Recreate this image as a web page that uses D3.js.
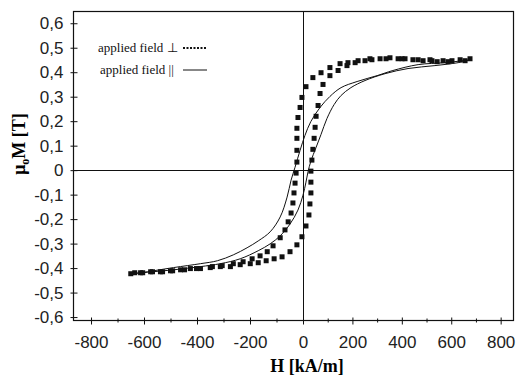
<!DOCTYPE html>
<html>
<head>
<meta charset="utf-8">
<script src="https://d3js.org/d3.v7.min.js"></script>
<style>
body { margin: 0; background: #fff; }
.tick text { font-family: "Liberation Sans", Arial, sans-serif; font-size: 17px; fill: #222; }
</style>
</head>
<body>
<svg id="chart" width="516" height="376"></svg>
<script>

// [H (kA/m), mu0*M (T)], one array per branch of each loop
const perpAscending = [[-650,-0.423],[-613,-0.419],[-575,-0.415],[-538,-0.415],[-500,-0.411],[-462,-0.407],[-425,-0.402],[-387,-0.402],[-350,-0.398],[-312,-0.394],[-274,-0.394],[-237,-0.386],[-199,-0.382],[-169,-0.378],[-139,-0.370],[-109,-0.362],[-79,-0.354],[-49,-0.333],[-23,-0.305],[-4,-0.272],[12,-0.228],[24,-0.183],[28,-0.138],[32,-0.093],[32,-0.049],[32,-0.004],[36,0.041],[40,0.085],[45,0.130],[49,0.175],[53,0.220],[61,0.264],[69,0.313],[81,0.350],[109,0.386],[142,0.407],[178,0.427],[211,0.439],[251,0.447],[271,0.455],[312,0.455],[352,0.459],[385,0.455],[413,0.455],[445,0.451],[486,0.447],[514,0.451],[543,0.443],[567,0.447],[603,0.447],[636,0.451],[676,0.455]];

const perpDescending = [[656,0.447],[587,0.443],[522,0.447],[466,0.451],[401,0.455],[336,0.455],[279,0.451],[223,0.447],[182,0.439],[150,0.435],[109,0.419],[73,0.398],[40,0.378],[12,0.341],[-4,0.297],[-11,0.256],[-19,0.215],[-23,0.171],[-23,0.130],[-23,0.081],[-23,0.033],[-26,-0.012],[-30,-0.053],[-34,-0.093],[-38,-0.134],[-45,-0.175],[-56,-0.211],[-68,-0.244],[-86,-0.276],[-113,-0.309],[-135,-0.333],[-162,-0.350],[-192,-0.362],[-226,-0.374],[-263,-0.382],[-305,-0.390],[-342,-0.394],[-402,-0.402],[-447,-0.407],[-492,-0.411],[-530,-0.415],[-568,-0.415],[-605,-0.419],[-635,-0.419]];

const parDescending = [[680,0.451],[575,0.439],[466,0.431],[364,0.407],[300,0.386],[219,0.362],[154,0.337],[109,0.301],[69,0.256],[32,0.199],[8,0.142],[-11,0.081],[-30,0.012],[-45,-0.041],[-60,-0.110],[-86,-0.191],[-124,-0.252],[-169,-0.289],[-211,-0.317],[-263,-0.346],[-323,-0.370],[-387,-0.382],[-489,-0.398],[-613,-0.419],[-650,-0.423]];

const parAscending = [[-650,-0.423],[-489,-0.407],[-387,-0.394],[-312,-0.382],[-237,-0.362],[-169,-0.329],[-124,-0.301],[-86,-0.268],[-49,-0.220],[-19,-0.163],[0,-0.102],[12,-0.049],[20,-0.008],[32,0.037],[53,0.093],[73,0.146],[97,0.211],[126,0.268],[154,0.305],[194,0.337],[251,0.366],[332,0.394],[425,0.415],[534,0.427],[628,0.439],[680,0.451]];

const xTicks = [-800, -600, -400, -200, 0, 200, 400, 600, 800];
const xMinorTicks = [-700, -500, -300, -100, 100, 300, 500, 700];
const yTicks = [-0.6, -0.5, -0.4, -0.3, -0.2, -0.1, 0, 0.1, 0.2, 0.3, 0.4, 0.5, 0.6];
const legendLabels = ["applied field  \u22a5", "applied field ||"];

var svg = d3.select("#chart");

// the scanned plot is a bit wider left of zero than right of it
var x = d3.scaleLinear()
    .domain([-868, 0, 850])
    .range([73, 303, 513]);

var y = d3.scaleLinear()
    .domain([-0.612, 0.65])
    .range([320, 11]);

var plotLeft = x.range()[0], plotRight = x.range()[2],
    plotTop = y.range()[1], plotBottom = y.range()[0];

// frame
svg.append("rect")
    .attr("x", plotLeft + 0.5).attr("y", plotTop + 0.5)
    .attr("width", plotRight - plotLeft).attr("height", plotBottom - plotTop)
    .attr("fill", "none").attr("stroke", "#111").attr("stroke-width", 1.2);

// zero lines
svg.append("line")
    .attr("x1", plotLeft).attr("x2", plotRight)
    .attr("y1", Math.round(y(0)) + 0.5).attr("y2", Math.round(y(0)) + 0.5)
    .attr("stroke", "#111");
svg.append("line")
    .attr("x1", Math.round(x(0)) + 0.5).attr("x2", Math.round(x(0)) + 0.5)
    .attr("y1", plotTop).attr("y2", plotBottom)
    .attr("stroke", "#111");

// axes
var yAxis = svg.append("g")
    .attr("transform", "translate(" + (plotLeft + 0.5) + ",0)")
    .call(d3.axisLeft(y).tickValues(yTicks).tickSize(3).tickPadding(7)
        .tickFormat(d => d === 0 ? "0" : d.toFixed(1).replace(".", ",")));
yAxis.select(".domain").remove();
yAxis.selectAll(".tick line").attr("x1", 4).attr("x2", -3).attr("stroke", "#111");

var xAxis = svg.append("g")
    .attr("transform", "translate(0," + (plotBottom + 0.5) + ")")
    .call(d3.axisBottom(x).tickValues(xTicks).tickSize(4).tickPadding(11)
        .tickFormat(d => String(d)));
xAxis.select(".domain").remove();
xAxis.selectAll(".tick line").attr("y1", -3).attr("y2", 4).attr("stroke", "#111");

var xMinor = svg.append("g")
    .attr("transform", "translate(0," + (plotBottom + 0.5) + ")")
    .call(d3.axisBottom(x).tickValues(xMinorTicks).tickSize(2).tickFormat(""));
xMinor.select(".domain").remove();
xMinor.selectAll(".tick line").attr("y1", -2).attr("y2", 2).attr("stroke", "#111");

// axis titles
svg.append("text")
    .attr("x", 307).attr("y", 372)
    .attr("text-anchor", "middle")
    .style("font", "bold 18px 'Liberation Serif', 'Times New Roman', serif")
    .text("H [kA/m]");

var ylab = svg.append("text")
    .attr("transform", "translate(25,144) rotate(-90)")
    .attr("text-anchor", "middle")
    .style("font", "bold 18px 'Liberation Serif', 'Times New Roman', serif");
ylab.append("tspan").text("\u03bc");
ylab.append("tspan").attr("dy", 4).style("font-size", "12px").text("o");
ylab.append("tspan").attr("dy", -4).text("M [T]");

// parallel field: thin solid lines
var line = d3.line()
    .x(d => x(d[0]))
    .y(d => y(d[1]))
    .curve(d3.curveCatmullRom);

[parAscending, parDescending].forEach(branch => {
    svg.append("path")
        .datum(branch)
        .attr("d", line)
        .attr("fill", "none")
        .attr("stroke", "#111")
        .attr("stroke-width", 1);
});

// perpendicular field: heavy square dots
svg.append("g").selectAll("rect")
    .data(perpAscending.concat(perpDescending))
    .enter().append("rect")
    .attr("x", d => x(d[0]) - 2.5)
    .attr("y", d => y(d[1]) - 2.5)
    .attr("width", 5)
    .attr("height", 5)
    .attr("fill", "#111");

// legend
var legend = svg.append("g").attr("transform", "translate(98,52)");
legendLabels.forEach((label, i) => {
    var row = legend.append("g").attr("transform", "translate(" + (i * 2) + "," + (i * 22) + ")");
    row.append("text")
        .attr("x", 0).attr("y", 0)
        .style("font", "13px 'Liberation Serif', 'Times New Roman', serif")
        .attr("fill", "#111")
        .text(label);
    row.append("line")
        .attr("x1", 85 - i * 2).attr("x2", 109 - i * 2)
        .attr("y1", -4).attr("y2", -4)
        .attr("stroke", "#111")
        .attr("stroke-width", i === 0 ? 2 : 1)
        .attr("stroke-dasharray", i === 0 ? "2,1.5" : null);
});

</script>
</body>
</html>
